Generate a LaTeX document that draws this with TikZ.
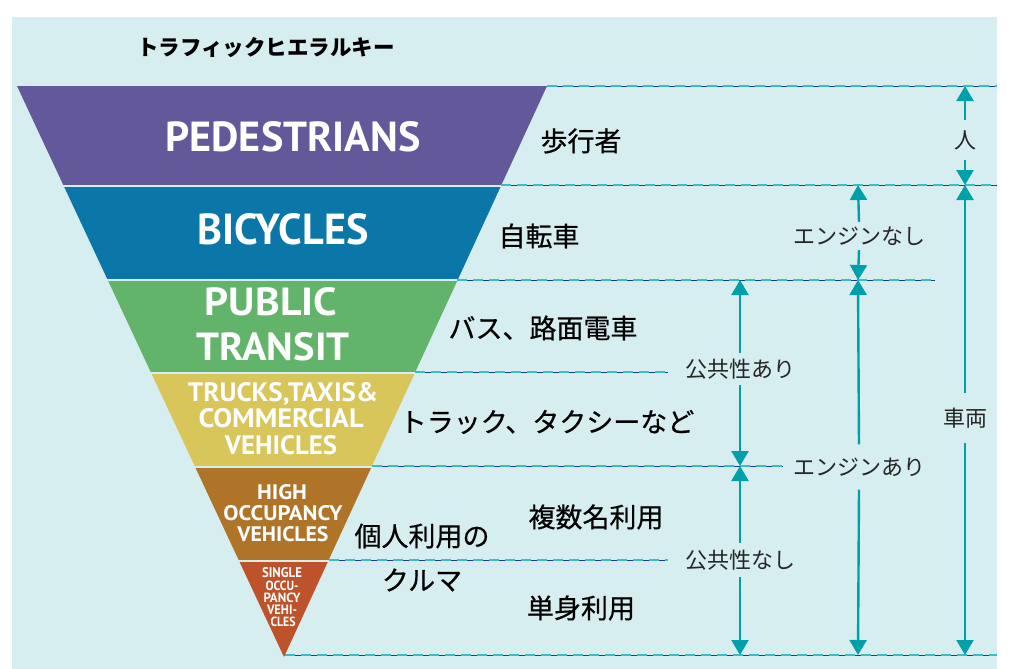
\documentclass[tikz,border=0pt]{standalone}
\usepackage{fontspec}
\usepackage{graphicx}
\usetikzlibrary{arrows.meta}
\newfontfamily\jp{Noto Sans CJK JP}
\newfontfamily\jpm[FakeBold=0.5]{Noto Sans CJK JP}
\newfontfamily\enf{PT Sans}
\definecolor{bgc}{HTML}{D7EEF0}
\definecolor{cped}{HTML}{63589A}
\definecolor{cbic}{HTML}{0A77A8}
\definecolor{cpub}{HTML}{62B46A}
\definecolor{ctru}{HTML}{D8C65A}
\definecolor{chov}{HTML}{B07428}
\definecolor{csov}{HTML}{BE522B}
\definecolor{arrc}{HTML}{00A0AA}
\definecolor{navyl}{HTML}{1F3A8A}
\definecolor{dashc}{HTML}{3CBCC4}
\newcommand\fitt[3]{\resizebox{#1pt}{#2pt}{#3}}
\newcommand\refline[2]{\draw[navyline] #1 -- #2; \draw[dashline] #1 -- #2;}
\begin{document}
\begin{tikzpicture}[x=1pt,y=-1pt,
  en/.style={font=\enf\bfseries, text=white, inner sep=0pt, text depth=0pt},
  jpl/.style={font=\jpm\fontsize{27}{30}\selectfont, text=black, inner sep=0pt},
  rlab/.style={font=\jp\fontsize{22}{24}\selectfont, text=black!85, inner sep=0pt},
  ttl/.style={font=\jp\bfseries\fontsize{21.5}{24}\selectfont, text=black, inner sep=0pt},
  arr/.style={draw=arrc, line width=2.4pt, -{Triangle[width=17pt,length=15pt]}},
  navyline/.style={draw=navyl, line width=0.9pt},
  dashline/.style={draw=dashc, line width=2.5pt, dash pattern=on 10pt off 6pt}]
\useasboundingbox (0,0) rectangle (1015,669);
\fill[white] (0,0) rectangle (1015,669);
\fill[bgc] (12,17) rectangle (997,669);
% title
\node[ttl] (title) at (266,48) {トラフィックヒエラルキー};
% inverted pyramid
\begin{scope}
\clip (17,86) -- (547,86) -- (284,657) -- cycle;
\fill[cped] (0,86) rectangle (1015,184.5);
\fill[cbic] (0,186.5) rectangle (1015,279);
\fill[cpub] (0,281) rectangle (1015,371.5);
\fill[ctru] (0,373.5) rectangle (1015,465.5);
\fill[chov] (0,467.5) rectangle (1015,559.5);
\fill[csov] (0,561.5) rectangle (1015,660);
\end{scope}
% english labels
\node[en] (ped) at (293,136) {\fitt{255}{30}{PEDESTRIANS}};
\node[en] (bic) at (283,229) {\fitt{171}{31}{BICYCLES}};
\node[en] (pub1) at (271,301) {\fitt{132}{28}{PUBLIC}};
\node[en] (pub2) at (273,346) {\fitt{153}{28}{TRANSIT}};
\node[en] (tru1) at (283,392) {\fitt{190}{19}{TRUCKS,TAXIS\&}};
\node[en] (tru2) at (281,418) {\fitt{165}{19}{COMMERCIAL}};
\node[en] (tru3) at (281,445) {\fitt{112}{19}{VEHICLES}};
\node[en] (hov1) at (282,492) {\fitt{50}{15}{HIGH}};
\node[en] (hov2) at (283,513) {\fitt{119}{15}{OCCUPANCY}};
\node[en] (hov3) at (283,534) {\fitt{91}{15}{VEHICLES}};
\node[en] (sov1) at (282,572) {\fitt{40}{10}{SINGLE}};
\node[en] (sov2) at (282,586) {\fitt{33}{9.5}{OCCU-}};
\node[en] (sov3) at (282,598) {\fitt{37}{9.5}{PANCY}};
\node[en] (sov4) at (282,610) {\fitt{30}{9.5}{VEHI-}};
\node[en] (sov5) at (283,622) {\fitt{25}{9.5}{CLES}};
% reference lines
\refline{(547,86)}{(997,86)}
\refline{(501,185)}{(997,185)}
\refline{(457,280)}{(935,280)}
\refline{(415,372)}{(668,372)}
\refline{(372,466)}{(783,466)}
\refline{(329,560)}{(668,560)}
\refline{(285,655)}{(997,655)}
% japanese labels
\node[jpl] (hoko) at (581,141) {歩行者};
\node[jpl] (jiten) at (539,236) {自転車};
\node[jpl] (bus) at (543,328) {バス、路面電車};
\node[jpl] (truck) at (547,422) {トラック、タクシーなど};
\node[jpl] (fuku) at (596,517) {複数名利用};
\node[jpl] (kojin) at (422,536) {個人利用の};
\node[jpl] (kuruma) at (422,580) {クルマ};
\node[jpl] (tan) at (581,608) {単身利用};
% dimension arrows
\coordinate (a86) at (965,86);
\coordinate (a185) at (965,185);
\coordinate (a655) at (965,655);
\coordinate (b185) at (858,185);
\coordinate (b280) at (858,280);
\coordinate (b655) at (858,655);
\coordinate (c280) at (740,280);
\coordinate (c466) at (740,466);
\coordinate (c655) at (740,655);
\node[rlab, minimum height=40pt] (hito) at (965,140) {人};
\node[rlab, minimum height=49pt] (sharyo) at (965,418) {車両};
\node[rlab, minimum height=28pt] (ennashi) at (859,236) {エンジンなし};
\node[rlab, minimum height=45pt] (enari) at (859,467) {エンジンあり};
\node[rlab, minimum height=32pt] (koari) at (740,369) {公共性あり};
\node[rlab, minimum height=33pt] (konashi) at (740,560) {公共性なし};
\draw[arr] (hito.north) -- (a86);
\draw[arr] (hito.south) -- (a185);
\draw[arr] (sharyo.north) -- (a185);
\draw[arr] (sharyo.south) -- (a655);
\draw[arr] (ennashi.north) -- (b185);
\draw[arr] (ennashi.south) -- (b280);
\draw[arr] (enari.north) -- (b280);
\draw[arr] (enari.south) -- (b655);
\draw[arr] (koari.north) -- (c280);
\draw[arr] (koari.south) -- (c466);
\draw[arr] (konashi.north) -- (c466);
\draw[arr] (konashi.south) -- (c655);
\end{tikzpicture}
\end{document}
